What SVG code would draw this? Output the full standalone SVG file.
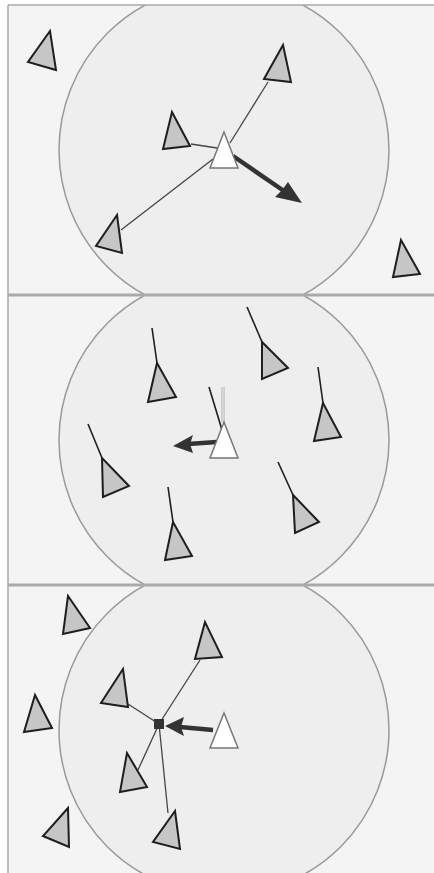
<svg xmlns="http://www.w3.org/2000/svg" width="434" height="873" viewBox="0 0 434 873">
<style>
.bg{fill:#f4f4f4}
.zone{fill:#eeeeee;stroke:#999;stroke-width:1.5}
.sep{stroke:#aaa;stroke-width:3}
.b{fill:#c6c6c6;stroke:#1e1e1e;stroke-width:2;stroke-linejoin:miter}
.me{fill:#fff;stroke:#777;stroke-width:1.5}
.ln{stroke:#444;stroke-width:1.3;fill:none}
.tail{stroke:#1e1e1e;stroke-width:1.6;fill:none}
.arr{stroke:#333;stroke-width:4.5;fill:none}
.head{fill:#333}
</style>
<defs>
<clipPath id="c1"><rect x="8" y="5" width="426" height="290"/></clipPath>
<clipPath id="c2"><rect x="8" y="295" width="426" height="290"/></clipPath>
<clipPath id="c3"><rect x="8" y="585" width="426" height="288"/></clipPath>
</defs>
<rect x="0" y="0" width="434" height="873" fill="#fff"/>
<rect class="bg" x="8" y="5" width="426" height="868"/>
<g id="zones">
<circle class="zone" cx="224" cy="150" r="165" clip-path="url(#c1)"/>
<circle class="zone" cx="224" cy="440" r="165" clip-path="url(#c2)"/>
<circle class="zone" cx="224" cy="730" r="165" clip-path="url(#c3)"/>
</g>
<g id="frame">
<line x1="8" y1="5" x2="434" y2="5" stroke="#aaa" stroke-width="1.5"/>
<line x1="8" y1="5" x2="8" y2="873" stroke="#aaa" stroke-width="1.5"/>
<line class="sep" x1="8" y1="295" x2="434" y2="295"/>
<line class="sep" x1="8" y1="585" x2="434" y2="585"/>
</g>
<g id="connectors">
<line class="ln" x1="230" y1="143" x2="268" y2="82"/>
<line class="ln" x1="191" y1="144" x2="217" y2="148"/>
<line class="ln" x1="213" y1="159" x2="121" y2="230"/>
<line class="arr" x1="233" y1="156" x2="284" y2="191"/>
<polygon class="head" points="302,203 275,197 282,190 288,182"/>
<line class="tail" x1="152" y1="328" x2="157" y2="363"/>
<line class="tail" x1="247" y1="307" x2="262" y2="342"/>
<line class="tail" x1="318" y1="367" x2="323" y2="403"/>
<line class="tail" x1="88" y1="424" x2="102" y2="458"/>
<line class="tail" x1="168" y1="487" x2="173" y2="522"/>
<line class="tail" x1="278" y1="462" x2="293" y2="495"/>
<line x1="223" y1="387" x2="223" y2="422" stroke="#aaa" stroke-width="3"/>
<line x1="223" y1="387" x2="223" y2="422" stroke="#fff" stroke-width="1"/>
<line class="tail" x1="209" y1="387" x2="222" y2="430"/>
<line class="arr" x1="217" y1="442" x2="188" y2="444"/>
<polygon class="head" points="173,446 193,435 190,444 193,453"/>
<line class="ln" x1="159" y1="724" x2="200" y2="660"/>
<line class="ln" x1="159" y1="724" x2="128" y2="704"/>
<line class="ln" x1="159" y1="724" x2="138" y2="770"/>
<line class="ln" x1="159" y1="724" x2="168" y2="813"/>
<line class="arr" x1="213" y1="730" x2="180" y2="727"/>
<polygon class="head" points="165,726 184,717 181,727 184,736"/>
<rect x="154" y="719" width="10" height="10" fill="#333"/>
</g>
<g id="p1-b1"><polygon class="b" points="50,31 28,62 56,70"/></g>
<g id="p1-b2"><polygon class="b" points="283,45 264,79 291,82"/></g>
<g id="p1-b3"><polygon class="b" points="172,112 163,149 190,146"/></g>
<g id="p1-me"><polygon class="me" points="224,132 210,168 238,168"/></g>
<g id="p1-b4"><polygon class="b" points="117,215 96,246 122,253"/></g>
<g id="p1-b5"><polygon class="b" points="401,240 393,277 420,274"/></g>
<g id="p2-b1"><polygon class="b" points="157,363 148,402 176,397"/></g>
<g id="p2-b2"><polygon class="b" points="262,342 262,379 288,368"/></g>
<g id="p2-b3"><polygon class="b" points="323,403 314,441 341,437"/></g>
<g id="p2-b4"><polygon class="b" points="102,458 103,497 129,486"/></g>
<g id="p2-b5"><polygon class="b" points="173,522 165,560 192,556"/></g>
<g id="p2-b6"><polygon class="b" points="293,495 295,533 319,522"/></g>
<g id="p2-me"><polygon class="me" points="224,422 210,458 238,458"/></g>
<g id="p3-b1"><polygon class="b" points="68,596 63,634 90,628"/></g>
<g id="p3-b2"><polygon class="b" points="205,622 195,659 222,657"/></g>
<g id="p3-b3"><polygon class="b" points="123,669 101,703 128,707"/></g>
<g id="p3-b4"><polygon class="b" points="35,695 24,732 52,728"/></g>
<g id="p3-b5"><polygon class="b" points="127,753 120,792 147,787"/></g>
<g id="p3-b6"><polygon class="b" points="68,808 43,836 69,847"/></g>
<g id="p3-b7"><polygon class="b" points="175,811 153,842 180,849"/></g>
<g id="p3-me"><polygon class="me" points="224,713 210,748 238,748"/></g>
</svg>
